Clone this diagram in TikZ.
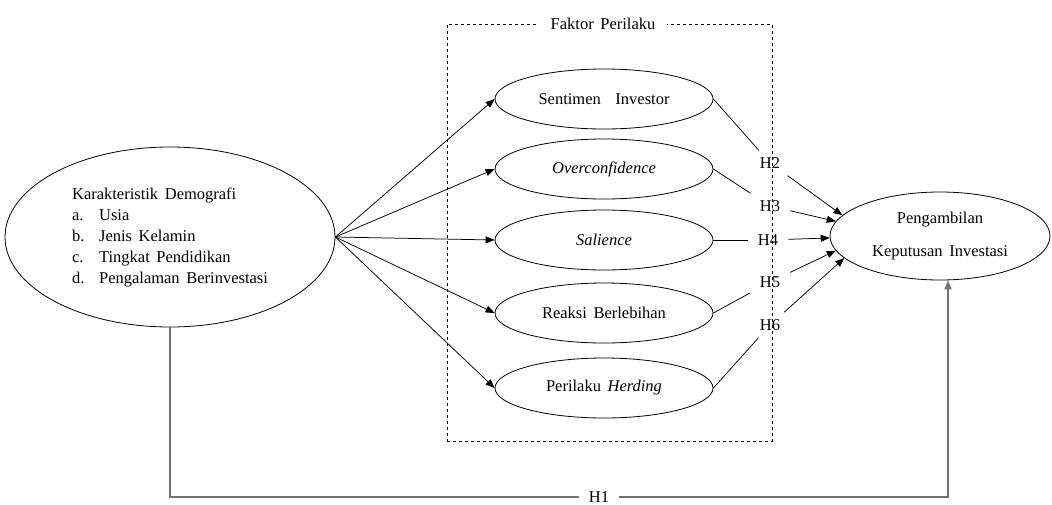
\documentclass[tikz,border=0pt]{standalone}
\usepackage{fontspec}
\setmainfont{Liberation Serif}[WordSpace=1.6]
\usetikzlibrary{arrows.meta,shapes.geometric}
\begin{document}
\begin{tikzpicture}[x=1pt,y=-1pt,
  every node/.style={font=\fontsize{16.5}{21}\selectfont},
  oval/.style={draw, ellipse, line width=0.8pt, inner sep=0pt, align=center},
  fac/.style={oval, minimum width=218pt, minimum height=60pt},
  link/.style={line width=0.75pt},
  arr/.style={link, -{Triangle[length=9pt,width=7pt]}},
  hlab/.style={inner xsep=10pt, inner ysep=7pt},
  grp/.style={draw, dashed, line width=0.8pt, inner sep=0pt},
  h1line/.style={line width=1.4pt, black!55},
]
\useasboundingbox (0,0) rectangle (1052,504);
% group box
\node[grp, minimum width=325pt, minimum height=417pt] (box) at (609.5,232.5) {};
\node[fill=white, inner xsep=12pt, inner ysep=2pt] (fp) at (603,24) {Faktor Perilaku};
% demography
\node[oval, minimum width=330pt, minimum height=180pt, align=left] (dem) at (170,237)
  {Karakteristik Demografi\\
   \makebox[27pt][l]{a.}Usia\\
   \makebox[27pt][l]{b.}Jenis Kelamin\\
   \makebox[27pt][l]{c.}Tingkat Pendidikan\\
   \makebox[27pt][l]{d.}Pengalaman Berinvestasi};
% factors
\node[fac] (s1) at (604,99) {Sentimen\hspace{8pt} Investor};
\node[fac] (s2) at (604,169) {\textit{Overconfidence}};
\node[fac] (s3) at (604,240) {\textit{Salience}};
\node[fac] (s4) at (604,313) {Reaksi Berlebihan};
\node[fac] (s5) at (604,388) {Perilaku \textit{Herding}};
% decision
\node[oval, minimum width=220pt, minimum height=88pt] (dec) at (940,236)
  {Pengambilan\\[12pt]Keputusan Investasi};
% hypothesis labels
\node[hlab] (h2) at (770,163) {H2};
\node[hlab] (h3) at (770,206) {H3};
\node[hlab] (h4) at (768,240) {H4};
\node[hlab] (h5) at (770,282) {H5};
\node[hlab] (h6) at (770,325) {H6};
% fan
\foreach \i in {1,...,5} \draw[arr] (dem.east) -- (s\i.west);
% to decision
\draw[link] (s1.east) -- (h2); \draw[arr] (h2) -- (dec.168);
\draw[link] (s2.east) -- (h3); \draw[arr] (h3) -- (dec.172);
\draw[link] (s3.east) -- (h4); \draw[arr] (h4) -- (dec.181);
\draw[link] (s4.east) -- (h5); \draw[arr] (h5) -- (dec.188);
\draw[link] (s5.east) -- (h6); \draw[arr] (h6) -- (dec.193);
% H1
\node[fill=white, inner xsep=10pt, inner ysep=2pt] (h1) at (599,497) {H1};
\coordinate (h1r) at (948,497);
\draw[h1line] (dem.south) -- (dem.south |- h1) -- (h1.west);
\draw[h1line, -{Triangle[length=9pt,width=7pt]}] (h1.east) -- (h1r) -- (h1r |- dec.south);
\end{tikzpicture}
\end{document}
